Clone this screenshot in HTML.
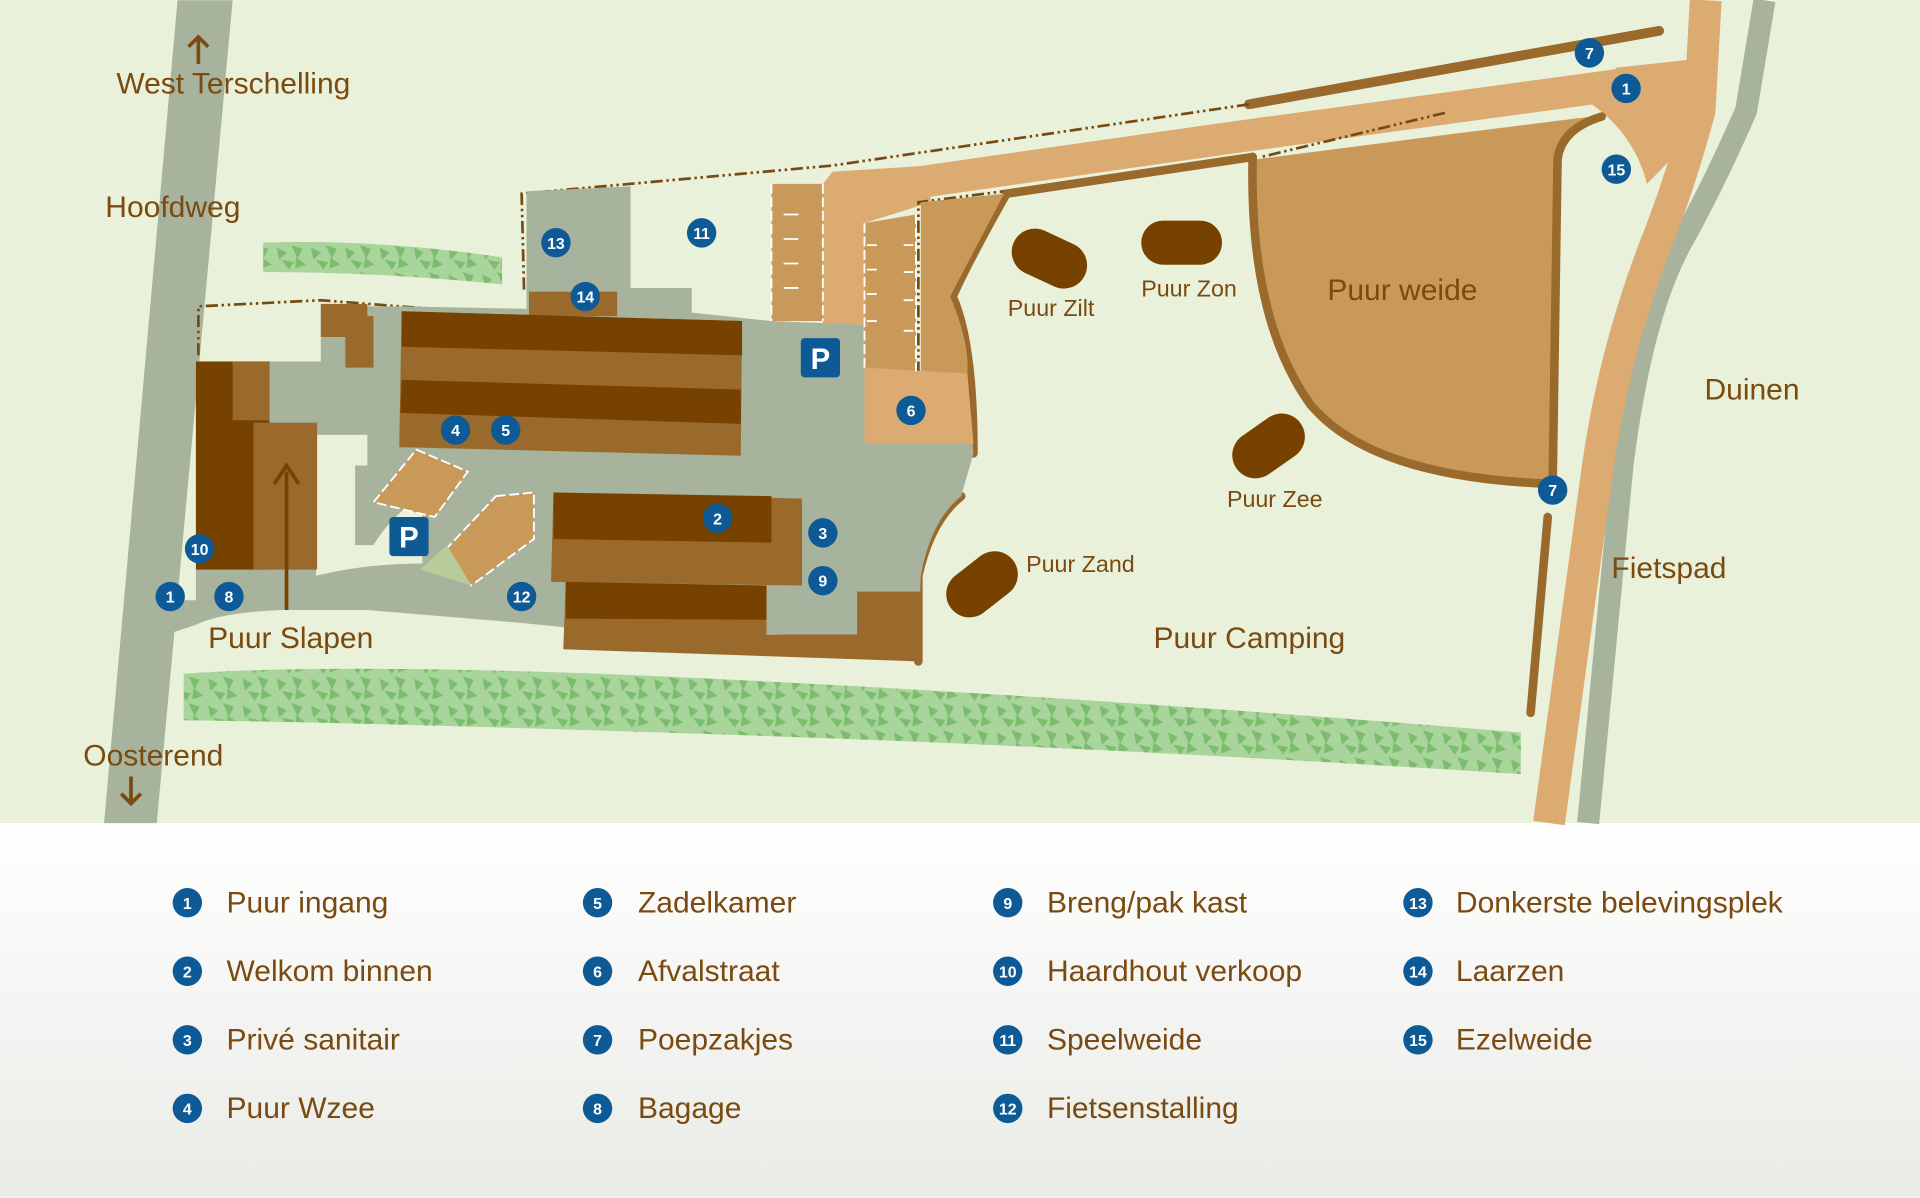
<!DOCTYPE html>
<html><head><meta charset="utf-8"><style>
html,body{margin:0;padding:0;width:1920px;height:1198px;overflow:hidden;background:#fff}
svg{display:block}
text{font-family:"Liberation Sans","DejaVu Sans",sans-serif}
</style></head><body>
<svg width="1920" height="1198" viewBox="0 0 1568 978" xmlns="http://www.w3.org/2000/svg">
<defs>
<linearGradient id="lg" x1="0" y1="0" x2="0" y2="1"><stop offset="0" stop-color="#ffffff"/><stop offset="1" stop-color="#e9ebe6"/></linearGradient>
<pattern id="leaf" width="28" height="22" patternUnits="userSpaceOnUse">
<rect width="28" height="22" fill="#a9d49c"/>
<path d="M2 4 l8 4 l-6 6z M14 2 l9 3 l-4 8z M6 14 l10 2 l-4 6z M18 12 l8 6 l-9 3z" fill="#7cbd6d"/>
</pattern>
</defs>
<rect x="0" y="0" width="1568" height="672" fill="#e9f1da"/>
<rect x="0" y="672" width="1568" height="306" fill="url(#lg)"/>

<!-- left road -->
<polygon points="145,0 190,0 128,672 85,672" fill="#a7b39c"/>
<!-- right grey road -->
<path d="M1441,0 L1426,90 Q1400,150 1372,200 Q1340,260 1325,380 L1297,672" fill="none" stroke="#a7b39c" stroke-width="18"/>
<!-- fietspad beige -->
<path d="M1393,0 L1388,90 Q1372,150 1350,205 Q1318,290 1305,380 L1265,672" fill="none" stroke="#dcab72" stroke-width="26"/>
<!-- top beige band -->
<path d="M685,158 L1000,113 L1330,68" fill="none" stroke="#dcab72" stroke-width="26"/>
<path d="M1320,55 L1385,48 L1392,100 Q1365,130 1345,150 Q1335,110 1300,85 Z" fill="#dcab72"/>
<path d="M680,140 L760,135 L760,165 L706,182 L706,300 L672,300 L672,150 Z" fill="#dcab72"/>

<!-- top brown line -->
<line x1="1020" y1="85" x2="1355" y2="25" stroke="#9a6a2d" stroke-width="8" stroke-linecap="round"/>
<!-- dash-dot boundary -->
<g fill="none" stroke="#774a12" stroke-width="2.2" stroke-dasharray="10,3,2,3,2,3">
<path d="M1020,85 L680,135 L426,158 L428,238"/>
<path d="M162,290 L162,250 L262,245 L430,258"/>
<path d="M1180,92 L1030,128"/>
<path d="M750,305 L750,165 L820,156"/>
<path d="M750,305 L790,305"/>
</g>

<!-- Puur weide -->
<path d="M1025,130 L1180,110 L1300,95 L1272,120 L1268,395 Q1120,390 1070,330 Q1020,260 1025,130 Z" fill="#c9995a"/>
<path d="M1308,95 Q1275,105 1272,130 L1268,395 Q1120,390 1070,330 Q1020,260 1023,128" fill="none" stroke="#9a6a2d" stroke-width="7" stroke-linecap="round"/>
<line x1="1264" y1="422" x2="1250" y2="582" stroke="#9a6a2d" stroke-width="7" stroke-linecap="round"/>
<!-- camping outline -->
<path d="M1023,128 L822,158 Q790,215 778,242 Q795,280 795,370" fill="none" stroke="#9a6a2d" stroke-width="7" stroke-linecap="round"/>
<path d="M785,405 Q760,425 750,470 L750,540" fill="none" stroke="#9a6a2d" stroke-width="7" stroke-linecap="round"/>
<path d="M752,165 L820,158 Q790,215 776,242 Q792,280 790,305 L752,305 Z" fill="#c9995a"/>

<!-- tent pods -->
<g fill="#774200">
<rect x="825" y="192" width="64" height="38" rx="19" transform="rotate(25 857 211)"/>
<rect x="932" y="180" width="66" height="36" rx="18"/>
<rect x="1004" y="345" width="64" height="38" rx="19" transform="rotate(-35 1036 364)"/>
<rect x="770" y="458" width="64" height="38" rx="19" transform="rotate(-38 802 477)"/>
</g>

<!-- grey yard -->
<path d="M160,295 L262,295 L262,250 L330,250 L430,252 L430,156 L515,152 L515,235 L565,235 L565,255 L630,262 L705,265 L705,300 L790,305 L795,370 L785,405 Q760,425 752,470 L750,520 L700,520 L460,512 L420,508 L300,498 L230,498 Q180,500 160,510 L130,520 L132,490 L160,490 Z" fill="#a7b39c"/>
<path d="M258,355 L300,355 L300,380 L290,380 L290,445 L305,445 Q320,420 345,405 L345,460 Q300,460 258,470 Z" fill="#e9f1da"/>
<path d="M515,152 L630,150 L630,262 L565,255 L565,235 L515,235 Z" fill="#e9f1da"/>

<!-- beige parking -->
<path d="M630,150 L672,150 L672,262 L630,262 Z" fill="#c9995a"/>
<path d="M706,182 L748,175 L748,303 L706,303 Z" fill="#c9995a"/>
<path d="M706,300 L790,305 L795,362 L706,362 Z" fill="#dcab72"/>
<g stroke="#fff" stroke-width="1.5" fill="none" stroke-dasharray="8,3">
<path d="M630,150 V262 M672,150 V262 M706,182 V303 M748,175 V303"/>
</g>
<g stroke="#fff" stroke-width="1.5"><path d="M640,175 h12 M640,195 h12 M640,215 h12 M640,235 h12 M708,200 h8 M708,220 h8 M708,240 h8 M708,262 h8 M738,200 h8 M738,222 h8 M738,245 h8 M738,270 h8"/></g>

<!-- buildings top -->
<rect x="432" y="238" width="72" height="20" fill="#9a6a2d"/>
<path d="M262,248 L300,248 L300,258 L305,258 L305,300 L282,300 L282,275 L262,275 Z" fill="#9a6a2d"/>
<path d="M328,254 L606,262 L605,372 L326,365 Z" fill="#9a6a2d"/>
<path d="M328,254 L606,262 L606,290 L328,283 Z" fill="#774200"/>
<path d="M328,310 L605,318 L605,346 L327,337 Z" fill="#774200"/>
<!-- left buildings -->
<rect x="160" y="295" width="60" height="170" fill="#774200"/>
<rect x="190" y="295" width="30" height="48" fill="#9a6a2d"/>
<rect x="207" y="345" width="52" height="120" fill="#9a6a2d"/>
<line x1="234" y1="498" x2="234" y2="385" stroke="#774200" stroke-width="3"/>
<path d="M224,395 L234,380 L244,395" fill="none" stroke="#774200" stroke-width="3"/>
<!-- lower buildings -->
<path d="M452,402 L655,407 L655,478 L450,475 Z" fill="#9a6a2d"/>
<path d="M452,402 L630,405 L630,443 L452,440 Z" fill="#774200"/>
<path d="M462,475 L626,478 L626,518 L700,518 L700,483 L752,483 L752,540 L460,530 Z" fill="#9a6a2d"/>
<path d="M462,475 L626,478 L626,506 L462,505 Z" fill="#774200"/>
<!-- angled parking -->
<path d="M340,367 L382,385 L355,422 L305,410 Z" fill="#c9995a" stroke="#fff" stroke-width="1.5" stroke-dasharray="8,3"/>
<path d="M405,405 L436,402 L436,440 L385,478 L358,455 Z" fill="#c9995a" stroke="#fff" stroke-width="1.5" stroke-dasharray="8,3"/>
<path d="M343,465 L365,445 L385,478 Z" fill="#b7cc98"/>

<!-- hedges -->
<path d="M215,198 Q310,195 410,210 L410,232 Q310,222 215,222 Z" fill="url(#leaf)"/>
<path d="M150,550 Q300,540 600,555 Q900,570 1242,598 L1242,632 Q900,610 600,600 Q300,590 150,588 Z" fill="url(#leaf)"/>

<!-- P signs -->
<g>
<rect x="654" y="276" width="32" height="32" rx="3" fill="#0d5a96"/><text x="670" y="301" font-size="24" font-weight="bold" fill="#fff" text-anchor="middle">P</text>
<rect x="318" y="422" width="32" height="32" rx="3" fill="#0d5a96"/><text x="334" y="447" font-size="24" font-weight="bold" fill="#fff" text-anchor="middle">P</text>
</g>

<!-- markers -->
<g font-size="13" font-weight="bold" fill="#fff" text-anchor="middle">
<g fill="#0d5a96">
<circle cx="1298" cy="43" r="12"/><circle cx="1328" cy="72" r="12"/><circle cx="1320" cy="138" r="12"/><circle cx="1268" cy="400" r="12"/>
<circle cx="454" cy="198" r="12"/><circle cx="573" cy="190" r="12"/><circle cx="478" cy="242" r="12"/><circle cx="744" cy="335" r="12"/>
<circle cx="372" cy="351" r="12"/><circle cx="413" cy="351" r="12"/><circle cx="586" cy="423" r="12"/><circle cx="672" cy="435" r="12"/>
<circle cx="672" cy="474" r="12"/><circle cx="426" cy="487" r="12"/><circle cx="163" cy="448" r="12"/><circle cx="139" cy="487" r="12"/><circle cx="187" cy="487" r="12"/>
</g>
<text x="1298" y="48">7</text><text x="1328" y="77">1</text><text x="1320" y="143">15</text><text x="1268" y="405">7</text>
<text x="454" y="203">13</text><text x="573" y="195">11</text><text x="478" y="247">14</text><text x="744" y="340">6</text>
<text x="372" y="356">4</text><text x="413" y="356">5</text><text x="586" y="428">2</text><text x="672" y="440">3</text>
<text x="672" y="479">9</text><text x="426" y="492">12</text><text x="163" y="453">10</text><text x="139" y="492">1</text><text x="187" y="492">8</text>
</g>

<!-- map labels -->
<g fill="#7a4a10" font-size="24.5">
<text x="95" y="76">West Terschelling</text>
<text x="86" y="177">Hoofdweg</text>
<text x="68" y="625">Oosterend</text>
<text x="170" y="529">Puur Slapen</text>
<text x="942" y="529">Puur Camping</text>
<text x="1084" y="245">Puur weide</text>
<text x="1392" y="326">Duinen</text>
<text x="1316" y="472">Fietspad</text>
</g>
<g fill="#7a4a10" font-size="19">
<text x="823" y="258">Puur Zilt</text>
<text x="932" y="242">Puur Zon</text>
<text x="1002" y="414">Puur Zee</text>
<text x="838" y="467">Puur Zand</text>
</g>
<g stroke="#7a4a10" stroke-width="3" fill="none">
<path d="M162,52 V30 M154,38 L162,30 L170,38"/>
<path d="M107,634 V656 M99,648 L107,656 L115,648"/>
</g>

<!-- legend -->
<g font-size="13" font-weight="bold" text-anchor="middle">
<g fill="#0d5a96">
<circle cx="153" cy="737" r="12"/><circle cx="153" cy="793" r="12"/><circle cx="153" cy="849" r="12"/><circle cx="153" cy="905" r="12"/>
<circle cx="488" cy="737" r="12"/><circle cx="488" cy="793" r="12"/><circle cx="488" cy="849" r="12"/><circle cx="488" cy="905" r="12"/>
<circle cx="823" cy="737" r="12"/><circle cx="823" cy="793" r="12"/><circle cx="823" cy="849" r="12"/><circle cx="823" cy="905" r="12"/>
<circle cx="1158" cy="737" r="12"/><circle cx="1158" cy="793" r="12"/><circle cx="1158" cy="849" r="12"/>
</g>
<g fill="#fff">
<text x="153" y="742">1</text><text x="153" y="798">2</text><text x="153" y="854">3</text><text x="153" y="910">4</text>
<text x="488" y="742">5</text><text x="488" y="798">6</text><text x="488" y="854">7</text><text x="488" y="910">8</text>
<text x="823" y="742">9</text><text x="823" y="798">10</text><text x="823" y="854">11</text><text x="823" y="910">12</text>
<text x="1158" y="742">13</text><text x="1158" y="798">14</text><text x="1158" y="854">15</text>
</g>
</g>
<g font-size="24.5" fill="#7a4a10">
<text x="185" y="745">Puur ingang</text><text x="185" y="801">Welkom binnen</text><text x="185" y="857">Privé sanitair</text><text x="185" y="913">Puur Wzee</text>
<text x="521" y="745">Zadelkamer</text><text x="521" y="801">Afvalstraat</text><text x="521" y="857">Poepzakjes</text><text x="521" y="913">Bagage</text>
<text x="855" y="745">Breng/pak kast</text><text x="855" y="801">Haardhout verkoop</text><text x="855" y="857">Speelweide</text><text x="855" y="913">Fietsenstalling</text>
<text x="1189" y="745">Donkerste belevingsplek</text><text x="1189" y="801">Laarzen</text><text x="1189" y="857">Ezelweide</text>
</g>
</svg>
</body></html>
